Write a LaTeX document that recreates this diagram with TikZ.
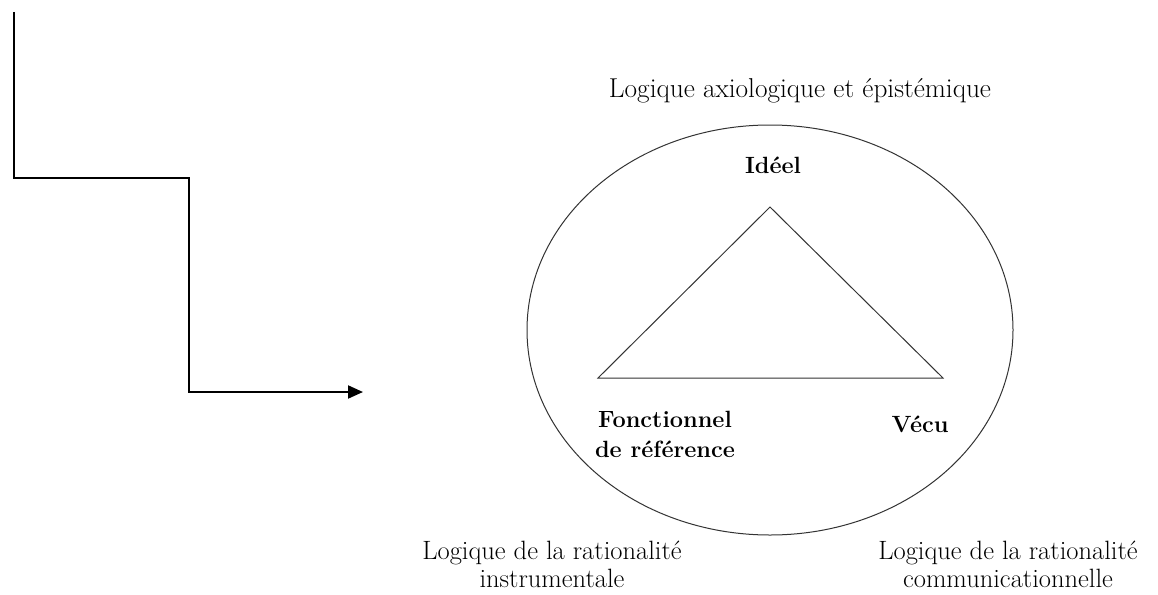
\documentclass[tikz,border=0pt]{standalone}
\usetikzlibrary{arrows.meta,shapes.geometric}
\begin{document}
\begin{tikzpicture}[x=1pt,y=-1pt,
  lbl/.style={font=\fontsize{26.5}{27.5}\selectfont, align=center, anchor=base, inner sep=0pt},
  blbl/.style={font=\fontsize{23.5}{30}\selectfont\bfseries, align=center, anchor=base, inner sep=0pt},
  thin line/.style={draw=black!80, line width=1pt},
  path arrow/.style={line width=2pt, -{Triangle[length=15pt,width=13pt]}}]
\useasboundingbox[fill=white] (0,0) rectangle (1158,594);
% connector
\coordinate (start) at (14,12);
\coordinate (knee) at (189,178);
\coordinate (end) at (363,392);
\draw[path arrow] (start) |- (knee) |- (end);
% ellipse
\node[ellipse, thin line, minimum width=486pt, minimum height=410pt, inner sep=0pt] (circ) at (770,330) {};
% triangle
\coordinate (apex) at (770,207);
\coordinate (bl) at (598,378);
\coordinate (br) at (943,378);
\draw[thin line, line join=miter] (apex) -- (br) -- (bl) -- cycle;
% labels (base anchor = baseline of the last line)
\node[lbl, font=\fontsize{27.3}{28}\selectfont] (top) at (800,97) {Logique axiologique et épistémique};
\node[blbl] (ideel) at (773,173) {Idéel};
\node[blbl] (fonc) at (665,457) {Fonctionnel\\de référence};
\node[blbl] (vecu) at (920,432) {Vécu};
\node[lbl] (instr) at (552,587) {Logique de la rationalité\\instrumentale};
\node[lbl] (comm) at (1008,587) {Logique de la rationalité\\communicationnelle};
\end{tikzpicture}
\end{document}
